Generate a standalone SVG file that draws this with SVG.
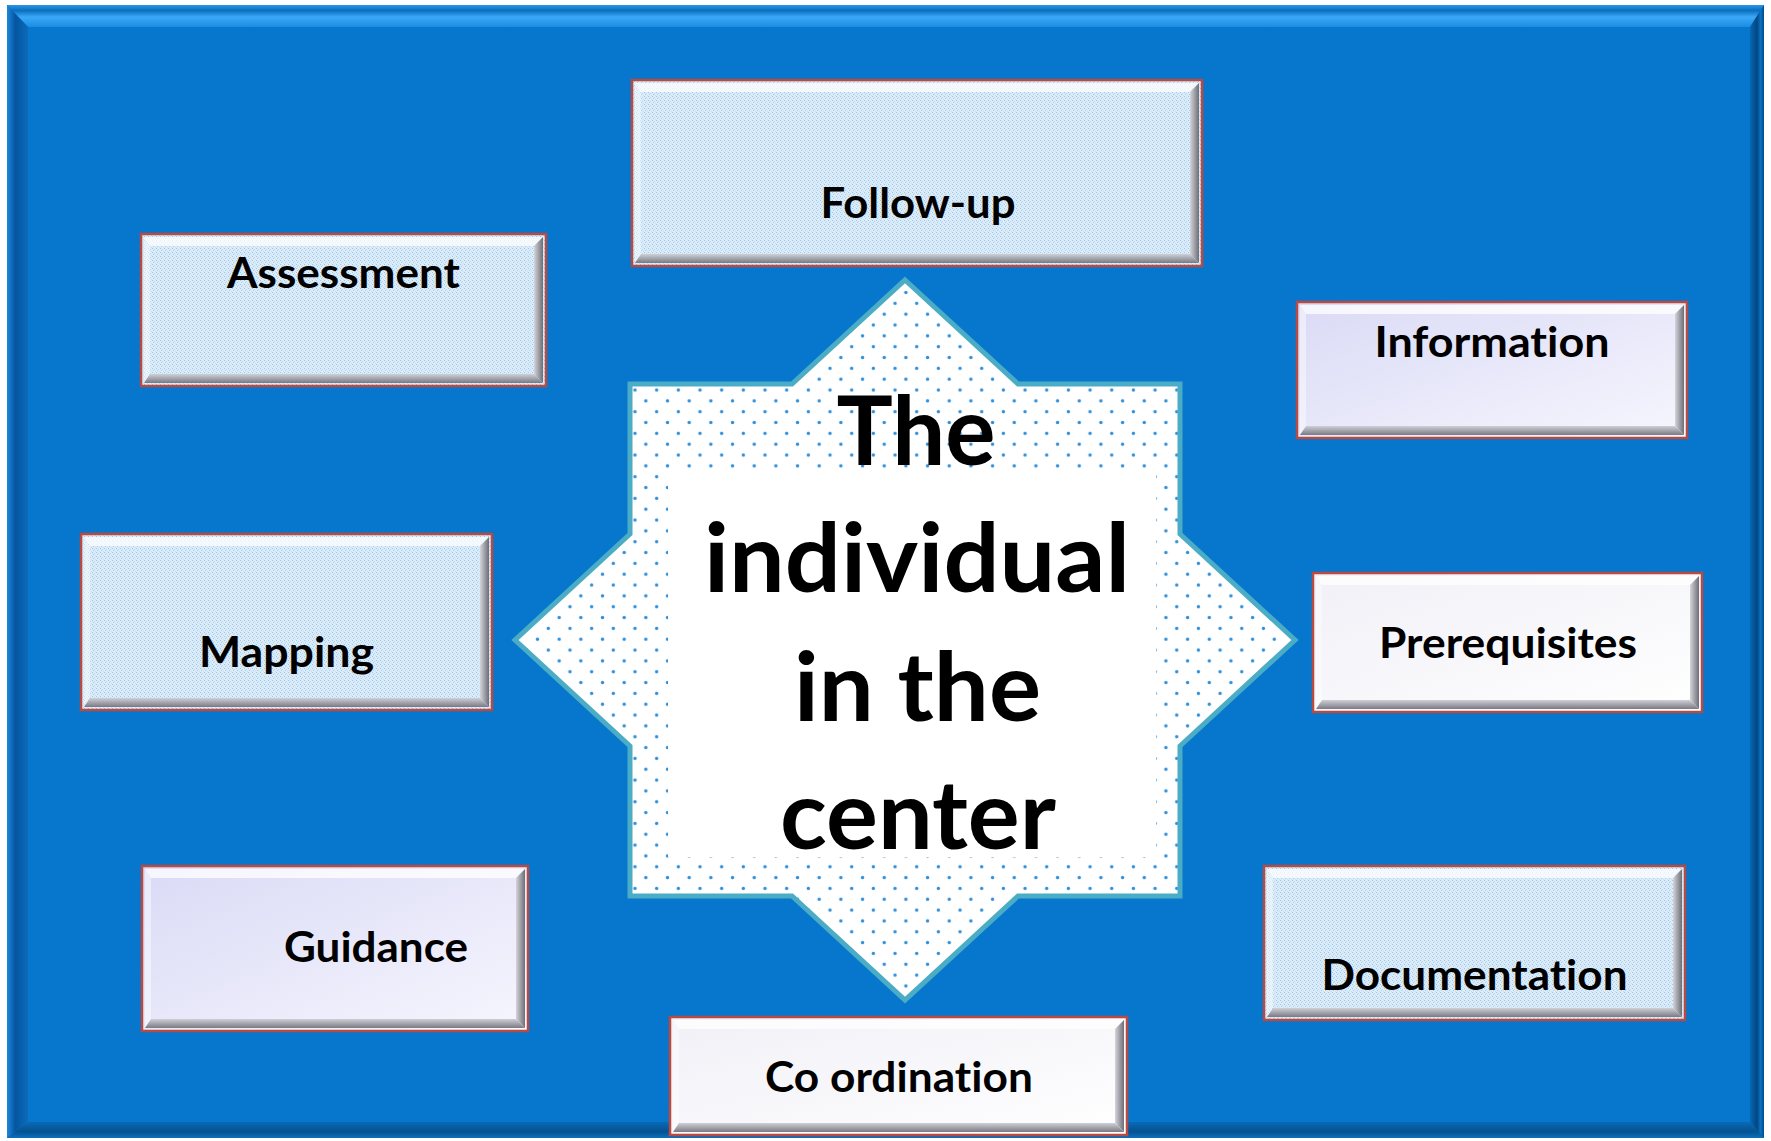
<svg xmlns="http://www.w3.org/2000/svg" width="1771" height="1141" viewBox="0 0 1771 1141">
<defs>
<style>
.lbl{font-family:Lato,"Liberation Sans",sans-serif;font-weight:700;fill:#000;text-anchor:middle;font-variant-ligatures:none}
.big{font-family:Lato,"Liberation Sans",sans-serif;font-weight:700;fill:#000;text-anchor:middle;font-size:96px;font-variant-ligatures:none}
.edge{fill:none;stroke:#B84A42;stroke-width:2.5}
.bt{fill:#FFFFFF;fill-opacity:.75}
.bl{fill:#FFFFFF;fill-opacity:.45}
.br{fill:url(#gR)}
.bb{fill:url(#gB)}
</style>
<pattern id="tex" patternUnits="userSpaceOnUse" width="4" height="4">
<rect width="4" height="4" fill="#DCECF8"/>
<rect x="0" y="0" width="1" height="1" fill="#9EC6E8"/>
<rect x="2" y="1" width="1" height="1" fill="#B8D6EF"/>
<rect x="1" y="2" width="1" height="1" fill="#A9CDEB"/>
<rect x="3" y="3" width="1" height="1" fill="#C4DEF2"/>
</pattern>
<linearGradient id="lav" x1="0" y1="0" x2="1" y2="1">
<stop offset="0" stop-color="#DADAF6"/>
<stop offset="1" stop-color="#F6F6FE"/>
</linearGradient>
<linearGradient id="wht" x1="0" y1="0" x2="1" y2="1">
<stop offset="0" stop-color="#F0F0F7"/>
<stop offset="1" stop-color="#FFFFFF"/>
</linearGradient>
<linearGradient id="gR" x1="0" y1="0" x2="1" y2="0">
<stop offset="0" stop-color="#D4D4DA"/>
<stop offset="1" stop-color="#6E6E78"/>
</linearGradient>
<linearGradient id="gB" x1="0" y1="0" x2="0" y2="1">
<stop offset="0" stop-color="#CFCFD6"/>
<stop offset="1" stop-color="#7A7A84"/>
</linearGradient>
<linearGradient id="fTop" x1="0" y1="0" x2="0" y2="1">
<stop offset="0" stop-color="#2A98EA"/>
<stop offset="0.25" stop-color="#0B6EBE"/>
<stop offset="0.55" stop-color="#3AA9F8"/>
<stop offset="1" stop-color="#1C8CE2"/>
</linearGradient>
<linearGradient id="fLeft" x1="0" y1="0" x2="1" y2="0">
<stop offset="0" stop-color="#1E88DA"/>
<stop offset="0.4" stop-color="#0555A0"/>
<stop offset="1" stop-color="#0A6CBA"/>
</linearGradient>
<linearGradient id="fRight" x1="0" y1="0" x2="1" y2="0">
<stop offset="0" stop-color="#0668B6"/>
<stop offset="0.5" stop-color="#03467F"/>
<stop offset="0.75" stop-color="#0A72C4"/>
<stop offset="1" stop-color="#034A88"/>
</linearGradient>
<linearGradient id="fBot" x1="0" y1="0" x2="0" y2="1">
<stop offset="0" stop-color="#0A6AB6"/>
<stop offset="0.6" stop-color="#04528F"/>
<stop offset="1" stop-color="#0A70C0"/>
</linearGradient>
<pattern id="dots" patternUnits="userSpaceOnUse" x="629.6" y="384.6" width="21.67" height="21.67">
<rect width="21.67" height="21.67" fill="#FFFFFF"/>
<circle cx="5.4" cy="5.4" r="1.7" fill="#2F8ED8"/>
<circle cx="16.25" cy="16.25" r="1.7" fill="#2F8ED8"/>
</pattern>
</defs>

<rect width="1771" height="1141" fill="#FFFFFF"/>

<g id="frame">
<rect x="7" y="5" width="1757" height="1133" fill="#0677CC"/>
<polygon points="7,5 1764,5 1750,27 28,27" fill="url(#fTop)"/>
<polygon points="7,5 28,27 28,1122 7,1138" fill="url(#fLeft)"/>
<polygon points="1764,5 1764,1138 1750,1122 1750,27" fill="url(#fRight)"/>
<polygon points="7,1138 1764,1138 1750,1122 28,1122" fill="url(#fBot)"/>
<rect x="28" y="27" width="1722" height="1095" fill="#0677CC"/>
</g>

<g id="center">
<polygon points="905,280 1018,384 1180,384 1180,534 1295,640 1180,746 1180,896 1018,896 905,1000 792,896 630,896 630,746 515,640 630,534 630,384 792,384" fill="url(#dots)"/>
<rect x="668" y="472" width="488" height="385" fill="#FFFFFF"/>
<polygon points="905,280 1018,384 1180,384 1180,534 1295,640 1180,746 1180,896 1018,896 905,1000 792,896 630,896 630,746 515,640 630,534 630,384 792,384" fill="none" stroke="#4BACC6" stroke-width="5"/>
<text class="big" x="916" y="465" textLength="159" lengthAdjust="spacingAndGlyphs">The</text>
<text class="big" x="917" y="592" textLength="426" lengthAdjust="spacingAndGlyphs">individual</text>
<text class="big" x="917.5" y="721" textLength="247" lengthAdjust="spacingAndGlyphs">in the</text>
<text class="big" x="918" y="849" textLength="276" lengthAdjust="spacingAndGlyphs">center</text>
</g>

<g id="followup">
<rect x="632" y="80" width="570" height="186" fill="url(#tex)"/>
<polygon class="bt" points="635,83 1199,83 1190,92 641,92"/>
<polygon class="bl" points="635,83 641,92 641,254 635,263"/>
<polygon class="br" points="1199,83 1199,263 1190,254 1190,92"/>
<polygon class="bb" points="635,263 1199,263 1190,254 641,254"/>
<rect class="edge" x="632" y="80" width="570" height="186"/>
<text class="lbl" x="918" y="218" font-size="42" textLength="195" lengthAdjust="spacingAndGlyphs">Follow-up</text>
</g>

<g id="assessment">
<rect x="141" y="234" width="405" height="152" fill="url(#tex)"/>
<polygon class="bt" points="144,237 543,237 534,246 150,246"/>
<polygon class="bl" points="144,237 150,246 150,374 144,383"/>
<polygon class="br" points="543,237 543,383 534,374 534,246"/>
<polygon class="bb" points="144,383 543,383 534,374 150,374"/>
<rect class="edge" x="141" y="234" width="405" height="152"/>
<text class="lbl" x="343.5" y="288" font-size="42" textLength="233" lengthAdjust="spacingAndGlyphs">Assessment</text>
</g>

<g id="information">
<rect x="1297" y="302" width="390" height="136" fill="url(#lav)"/>
<polygon class="bt" points="1300,305 1684,305 1675,314 1306,314"/>
<polygon class="bl" points="1300,305 1306,314 1306,426 1300,435"/>
<polygon class="br" points="1684,305 1684,435 1675,426 1675,314"/>
<polygon class="bb" points="1300,435 1684,435 1675,426 1306,426"/>
<rect class="edge" x="1297" y="302" width="390" height="136"/>
<text class="lbl" x="1492" y="357" font-size="42" textLength="235" lengthAdjust="spacingAndGlyphs">Information</text>
</g>

<g id="mapping">
<rect x="81" y="534" width="411" height="176" fill="url(#tex)"/>
<polygon class="bt" points="84,537 489,537 480,546 90,546"/>
<polygon class="bl" points="84,537 90,546 90,698 84,707"/>
<polygon class="br" points="489,537 489,707 480,698 480,546"/>
<polygon class="bb" points="84,707 489,707 480,698 90,698"/>
<rect class="edge" x="81" y="534" width="411" height="176"/>
<text class="lbl" x="286.5" y="667" font-size="42" textLength="175" lengthAdjust="spacingAndGlyphs">Mapping</text>
</g>

<g id="prerequisites">
<rect x="1313" y="573" width="389" height="139" fill="url(#wht)"/>
<polygon class="bt" points="1316,576 1699,576 1690,585 1322,585"/>
<polygon class="bl" points="1316,576 1322,585 1322,700 1316,709"/>
<polygon class="br" points="1699,576 1699,709 1690,700 1690,585"/>
<polygon class="bb" points="1316,709 1699,709 1690,700 1322,700"/>
<rect class="edge" x="1313" y="573" width="389" height="139"/>
<text class="lbl" x="1508" y="658" font-size="42" textLength="258" lengthAdjust="spacingAndGlyphs">Prerequisites</text>
</g>

<g id="guidance">
<rect x="142" y="866" width="386" height="165" fill="url(#lav)"/>
<polygon class="bt" points="145,869 525,869 516,878 151,878"/>
<polygon class="bl" points="145,869 151,878 151,1019 145,1028"/>
<polygon class="br" points="525,869 525,1028 516,1019 516,878"/>
<polygon class="bb" points="145,1028 525,1028 516,1019 151,1019"/>
<rect class="edge" x="142" y="866" width="386" height="165"/>
<text class="lbl" x="376" y="962" font-size="42" textLength="184" lengthAdjust="spacingAndGlyphs">Guidance</text>
</g>

<g id="documentation">
<rect x="1264" y="866" width="421" height="154" fill="url(#tex)"/>
<polygon class="bt" points="1267,869 1682,869 1673,878 1273,878"/>
<polygon class="bl" points="1267,869 1273,878 1273,1008 1267,1017"/>
<polygon class="br" points="1682,869 1682,1017 1673,1008 1673,878"/>
<polygon class="bb" points="1267,1017 1682,1017 1673,1008 1273,1008"/>
<rect class="edge" x="1264" y="866" width="421" height="154"/>
<text class="lbl" x="1474.5" y="990" font-size="42" textLength="306" lengthAdjust="spacingAndGlyphs">Documentation</text>
</g>

<g id="coordination">
<rect x="670" y="1017" width="457" height="118" fill="url(#wht)"/>
<polygon class="bt" points="673,1020 1124,1020 1115,1029 679,1029"/>
<polygon class="bl" points="673,1020 679,1029 679,1123 673,1132"/>
<polygon class="br" points="1124,1020 1124,1132 1115,1123 1115,1029"/>
<polygon class="bb" points="673,1132 1124,1132 1115,1123 679,1123"/>
<rect class="edge" x="670" y="1017" width="457" height="118"/>
<text class="lbl" x="899" y="1092" font-size="42" textLength="268" lengthAdjust="spacingAndGlyphs">Co ordination</text>
</g>

<g id="connectors"></g>
</svg>
